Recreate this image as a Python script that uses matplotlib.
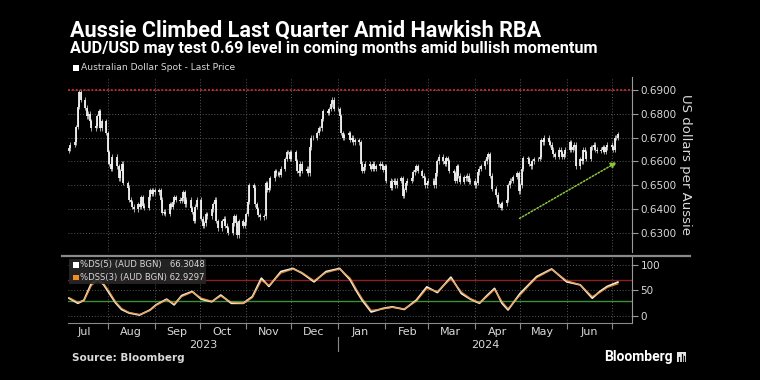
import numpy as np
import pandas as pd
import matplotlib
matplotlib.use('Agg')
import matplotlib.pyplot as plt
import matplotlib.dates as mdates
from matplotlib.lines import Line2D
from matplotlib.patches import Rectangle

# ---- data ----
spot_close = [
    0.6655, 0.6670,
    0.6680, 0.6745, 0.6830, 0.6890, 0.6860,
    0.6825, 0.6790, 0.6800, 0.6770, 0.6740,
    0.6750, 0.6790, 0.6810, 0.6740, 0.6770,
    0.6720, 0.6640, 0.6590, 0.6570, 0.6620,
    0.6580, 0.6530, 0.6560, 0.6590, 0.6510,
    0.6490, 0.6440, 0.6430, 0.6410, 0.6400,
    0.6420, 0.6410, 0.6450, 0.6415, 0.6405,
    0.6450, 0.6480, 0.6465, 0.6480, 0.6470,
    0.6480, 0.6440, 0.6385, 0.6390, 0.6380,
    0.6420, 0.6410, 0.6430, 0.6450, 0.6440,
    0.6435, 0.6445, 0.6470, 0.6420, 0.6440,
    0.6405, 0.6390, 0.6350, 0.6410, 0.6440,
    0.6360, 0.6330, 0.6340, 0.6380, 0.6370,
    0.6400, 0.6420, 0.6440, 0.6350, 0.6320,
    0.6350, 0.6360, 0.6330, 0.6320, 0.6300,
    0.6340, 0.6370, 0.6340, 0.6290, 0.6350,
    0.6330, 0.6345, 0.6380, 0.6430, 0.6500,
    0.6490, 0.6420, 0.6400, 0.6375, 0.6365,
    0.6370, 0.6510, 0.6480, 0.6490, 0.6530,
    0.6560, 0.6550, 0.6550, 0.6545, 0.6570,
    0.6610, 0.6640, 0.6640, 0.6610, 0.6640,
    0.6600, 0.6560, 0.6550, 0.6590, 0.6560,
    0.6570, 0.6550, 0.6660, 0.6700, 0.6700,
    0.6720, 0.6740, 0.6740, 0.6780, 0.6810,
    0.6805, 0.6820, 0.6840, 0.6860, 0.6820,
    0.6820, 0.6790, 0.6720, 0.6700, 0.6710,
    0.6720, 0.6690, 0.6700, 0.6680, 0.6690,
    0.6680, 0.6590, 0.6560, 0.6575, 0.6590,
    0.6580, 0.6570, 0.6590, 0.6570, 0.6580,
    0.6590, 0.6580, 0.6565, 0.6580, 0.6520,
    0.6490, 0.6515, 0.6520, 0.6500, 0.6520,
    0.6530, 0.6455, 0.6480, 0.6510, 0.6520,
    0.6530, 0.6555, 0.6565, 0.6580, 0.6560,
    0.6540, 0.6530, 0.6500, 0.6510, 0.6520,
    0.6520, 0.6500, 0.6550, 0.6600, 0.6620,
    0.6600, 0.6590, 0.6615, 0.6600, 0.6560,
    0.6550, 0.6520, 0.6580, 0.6540, 0.6515,
    0.6535, 0.6530, 0.6540, 0.6515, 0.6520,
    0.6500, 0.6510, 0.6555, 0.6570, 0.6580,
    0.6600, 0.6620, 0.6630, 0.6540, 0.6485,
    0.6460, 0.6420, 0.6420, 0.6405, 0.6425,
    0.6440, 0.6500, 0.6520, 0.6520, 0.6535,
    0.6550, 0.6475, 0.6500, 0.6570, 0.6615,
    0.6610, 0.6590, 0.6580, 0.6600, 0.6610,
    0.6610, 0.6620, 0.6690, 0.6680, 0.6700,
    0.6680, 0.6670, 0.6650, 0.6630, 0.6620,
    0.6650, 0.6640, 0.6620, 0.6630, 0.6650,
    0.6680, 0.6650, 0.6660, 0.6670, 0.6580,
    0.6610, 0.6600, 0.6650, 0.6640, 0.6610,
    0.6660, 0.6660, 0.6670, 0.6650, 0.6645,
    0.6650, 0.6660, 0.6640, 0.6660, 0.6670,
    0.6660, 0.6650, 0.6700, 0.6700, 0.6715,
]
spot_dates = pd.bdate_range('2023-07-06', periods=len(spot_close))

osc_dates = pd.to_datetime([
    '2023-07-06', '2023-07-12', '2023-07-16', '2023-07-21', '2023-07-25',
    '2023-07-29', '2023-08-02', '2023-08-06', '2023-08-10', '2023-08-15',
    '2023-08-22', '2023-08-29', '2023-09-02', '2023-09-09', '2023-09-14',
    '2023-09-19', '2023-09-26', '2023-10-02', '2023-10-09', '2023-10-15',
    '2023-10-22', '2023-10-30', '2023-11-05', '2023-11-11', '2023-11-16',
    '2023-11-24', '2023-12-02', '2023-12-08', '2023-12-16', '2023-12-24',
    '2024-01-02', '2024-01-09', '2024-01-13', '2024-01-17', '2024-01-23',
    '2024-01-31', '2024-02-06', '2024-02-14', '2024-02-22', '2024-02-29',
    '2024-03-07', '2024-03-16', '2024-03-23', '2024-03-29', '2024-04-04',
    '2024-04-09', '2024-04-14', '2024-04-19', '2024-04-23', '2024-05-01',
    '2024-05-07', '2024-05-12', '2024-05-22', '2024-06-01', '2024-06-10',
    '2024-06-18', '2024-06-23', '2024-06-28', '2024-07-05',
])
osc_ds = [
    35, 25, 31, 64, 71,
    62, 44, 26, 13, 6,
    2, 12, 22, 33, 22,
    40, 48, 33, 28, 41,
    25, 25, 38, 74, 58,
    87, 93, 84, 67, 87,
    93, 71, 50, 31, 8,
    15, 18, 13, 31, 57,
    46, 76, 44, 33, 25,
    40, 54, 25, 12, 44,
    62, 77, 92, 67, 61,
    35, 48, 58, 66.3,
]
osc_dss = [
    36, 27, 30, 60, 70,
    64, 47, 28, 15, 7,
    3, 11, 21, 32, 24,
    38, 47, 35, 29, 39,
    27, 25, 36, 70, 60,
    84, 92, 85, 69, 85,
    92, 74, 53, 34, 11,
    14, 17, 14, 29, 54,
    48, 73, 47, 34, 26,
    38, 52, 28, 14, 41,
    60, 75, 91, 69, 61,
    38, 46, 56, 62.9,
]

month_labels = ['Jul', 'Aug', 'Sep', 'Oct', 'Nov', 'Dec',
                'Jan', 'Feb', 'Mar', 'Apr', 'May', 'Jun']
year_labels = ['2023', '2024']

target_level = 0.69
osc_upper, osc_lower = 70, 30
arrow_start = ('2024-04-29', 0.6355)
arrow_end = ('2024-07-06', 0.6603)

# ---- helpers ----
W, H = 760, 380
def fx(x):
    return x / W
def fy(y):
    return 1 - y / H

BG = 'black'
GRID = '#5a5a5a'
TXT = '#d9d9d9'

fig = plt.figure(figsize=(7.6, 3.8), dpi=100, facecolor=BG)

left_px, right_px = 68, 632
ax = fig.add_axes([fx(left_px), fy(252), fx(right_px - left_px), (252 - 77) / H])
ax2 = fig.add_axes([fx(left_px), fy(322.7), fx(right_px - left_px), (322.7 - 255.7) / H],
                   sharex=ax)

for a in (ax, ax2):
    a.set_facecolor(BG)
    for s in ('top', 'left'):
        a.spines[s].set_visible(False)
    a.spines['right'].set_color('#9a9a9a')
    a.spines['bottom'].set_visible(False)
    a.yaxis.tick_right()
    a.tick_params(axis='y', colors='#9a9a9a', labelcolor=TXT, length=4,
                  width=0.8, labelsize=7.5, pad=2)

# ---- price bars ----
close = np.array(spot_close)
opn = np.concatenate([[close[0] - 0.0010], close[:-1]])
body_lo = np.minimum(opn, close)
body_hi = np.maximum(opn, close)
wick = 0.0010
ax.vlines(spot_dates, body_lo - wick, body_hi + wick, color='#a8a8a8', lw=0.7, zorder=3)
ax.vlines(spot_dates, body_lo, body_hi, color='#f2f2f2', lw=1.3, zorder=4)

ax.axhline(target_level, color='#c0262d', ls=(0, (1, 1)), lw=1.4, zorder=2)

ax.annotate('', xy=(pd.Timestamp(arrow_end[0]), arrow_end[1]),
            xytext=(pd.Timestamp(arrow_start[0]), arrow_start[1]),
            arrowprops=dict(arrowstyle='-|>', color='#8cc63f', lw=1.1,
                            linestyle=(0, (1, 1.2)), mutation_scale=9),
            zorder=5)

x0 = pd.Timestamp('2023-07-05 10:00')
x1 = pd.Timestamp('2024-07-14 10:00')
ax.set_xlim(x0, x1)
ax.set_ylim(0.6220, 0.69546)
yt = np.round(np.arange(0.63, 0.6901, 0.01), 2)
ax.set_yticks(yt)
ax.set_yticklabels([f'{v:.4f}' for v in yt])
ax.set_ylabel('US dollars per Aussie', rotation=270, color=TXT, fontsize=9.5, labelpad=11)
ax.yaxis.set_label_position('right')
ax.grid(axis='y', color=GRID, ls=(0, (1, 2)), lw=0.7)

# month gridlines
month_starts = pd.date_range('2023-08-01', '2024-07-01', freq='MS')
for m in month_starts:
    ax.axvline(m, color=GRID, ls=(0, (1, 2)), lw=0.7, zorder=1)
    ax2.axvline(m, color=GRID, ls=(0, (1, 2)), lw=0.7, zorder=1)

# ---- oscillator ----
ax2.axhline(osc_upper, color='#8e1f1f', lw=1.0, zorder=2)
ax2.axhline(osc_lower, color='#3f8f3a', lw=1.0, zorder=2)
ax2.plot(osc_dates, osc_ds, color='#f4efe6', lw=1.3, zorder=3, solid_joinstyle='round')
ax2.plot(osc_dates, osc_dss, color='#e8953f', lw=1.0, alpha=0.85, zorder=4,
         solid_joinstyle='round')
ax2.set_ylim(-13, 118)
ax2.set_yticks([0, 50, 100])
ax2.grid(axis='y', color=GRID, ls=(0, (1, 2)), lw=0.7)
ax2.spines['bottom'].set_visible(True)
ax2.spines['bottom'].set_color('#8a8a8a')

ax2.xaxis.set_major_locator(mdates.MonthLocator())
ax2.xaxis.set_major_formatter(plt.NullFormatter())
ax2.xaxis.set_minor_locator(mdates.MonthLocator(bymonthday=16))
ax2.xaxis.set_minor_formatter(mdates.DateFormatter('%b'))
ax2.tick_params(axis='x', which='major', length=4, color='#8a8a8a', width=0.8)
ax2.tick_params(axis='x', which='minor', length=0, labelsize=8, labelcolor=TXT, pad=3)
ax2.set_xlim(x0, x1)
# shared x: hide every x tick and label on the price panel
ax.tick_params(axis='x', which='both', bottom=False, labelbottom=False)

# separator line on top of oscillator panel
fig.add_artist(Line2D([fx(left_px - 6), fx(690)], [fy(255.7), fy(255.7)],
                      color='#8a8a8a', lw=1.6))

# year labels
jan1 = mdates.date2num(pd.Timestamp('2024-01-01'))
xa, xb = mdates.date2num(x0), mdates.date2num(x1)
def date_to_fig(d):
    return fx(left_px) + (d - xa) / (xb - xa) * fx(right_px - left_px)
for lab, (da, db) in zip(year_labels, [(xa, jan1), (jan1, xb)]):
    fig.text(date_to_fig((da + db) / 2), fy(345), lab, color=TXT, fontsize=8,
             ha='center', va='center')
fig.add_artist(Line2D([date_to_fig(jan1)] * 2, [fy(337), fy(351)], color='#8a8a8a', lw=0.8))

# ---- legends ----
def square(x, y, color, size=6):
    fig.add_artist(Rectangle((fx(x), fy(y + size / 2)), fx(size), size / H,
                             facecolor=color, edgecolor='none', zorder=8))

square(73, 68, 'white')
fig.text(fx(81), fy(68), 'Australian Dollar Spot - Last Price', color=TXT,
         fontsize=6.6, va='center')

fig.add_artist(Rectangle((fx(69), fy(284)), fx(137), (284 - 258.5) / H,
                         facecolor='#262626', edgecolor='none', alpha=0.9, zorder=6))
square(73, 265, 'white', 5.5)
fig.text(fx(80.5), fy(265), '%DS(5) (AUD BGN)   66.3048', color=TXT, fontsize=6.1,
         va='center', zorder=7)
square(73, 277.3, '#f28c28', 5.5)
fig.text(fx(80.5), fy(277.3), '%DSS(3) (AUD BGN) 62.9297', color=TXT, fontsize=6.1,
         va='center', zorder=7)

# ---- titles and footer ----
fig.text(fx(70), fy(30), 'Aussie Climbed Last Quarter Amid Hawkish RBA', color='white',
         fontsize=15.6, weight='bold', family='Roboto', va='center')
fig.text(fx(70), fy(48), 'AUD/USD may test 0.69 level in coming months amid bullish momentum',
         color='white', fontsize=11.7, weight='bold', family='Roboto', va='center')
fig.text(fx(72), fy(358), 'Source: Bloomberg', color=TXT, fontsize=7.5, weight='bold',
         va='center')
fig.text(fx(673), fy(357), 'Bloomberg', color='white', fontsize=10, weight='bold',
         family='Roboto', ha='right', va='center')
fig.add_artist(Rectangle((fx(677), fy(362)), fx(9), 10 / H, facecolor='#e6e6e6',
                         edgecolor='none'))
for bx, bh in [(679, 4), (681.5, 7), (684, 5)]:
    fig.add_artist(Line2D([fx(bx), fx(bx)], [fy(361), fy(361 - bh)], color='black', lw=0.9))

fig.savefig('out.png', dpi=100, facecolor=BG)
